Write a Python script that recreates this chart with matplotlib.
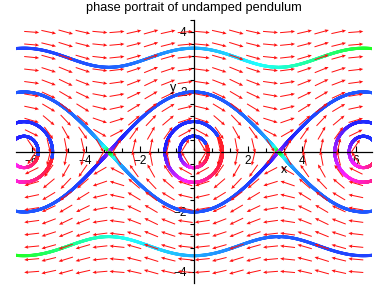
import numpy as np
import matplotlib.pyplot as plt
from matplotlib.collections import LineCollection
from matplotlib.colors import hsv_to_rgb
from matplotlib.ticker import MultipleLocator

plt.rcParams['font.family'] = ['Liberation Sans', 'DejaVu Sans']

# direction field grid (20 x 20)
grid_x = np.linspace(-6.0, 6.0, 20)
grid_y = np.linspace(-4.0, 4.0, 20)

# initial conditions
# separatrices through the saddles
sep_x0 = [-2 * np.pi, 0.0, 2 * np.pi, -2 * np.pi, 0.0, 2 * np.pi]
sep_y0 = [2.0, 2.0, 2.0, -2.0, -2.0, -2.0]
# rotating (outer) orbits
rot_x0 = [0.0, 0.0]
rot_y0 = [3.46, -3.46]
# closed loops around the centres
loop_cx = [0.0, 0.0, -2 * np.pi, -2 * np.pi, 2 * np.pi, 2 * np.pi]
loop_dx = [0.44, 0.88, 0.52, 1.04, 0.52, 1.04]
loop_y0 = [0.29, 0.55, -0.09, -0.18, -0.09, -0.18]
loop_side = [False, False, True, True, True, True]

xticks = [-6, -4, -2, 2, 4, 6]
yticks = [-4, -2, 2, 4]

# hue along one turn of a loop (red -> magenta -> blue)
centre_frac = [0.0, 0.2, 0.35, 0.5, 0.62, 1.0]
centre_hue = [1.0, 0.97, 0.87, 0.76, 0.67, 0.64]
side_frac = [0.0, 0.12, 0.25, 0.45, 0.7, 1.0]
side_hue = [1.0, 0.95, 0.87, 0.78, 0.66, 0.64]

SX, SY = 27.0, 30.0  # px per unit


def f(s):
    return np.array([s[1], -np.sin(s[0])])


def rk4(x0, y0, t_end, dt=0.005):
    n = int(abs(t_end) / dt)
    h = dt if t_end > 0 else -dt
    out = np.zeros((n + 1, 2))
    s = np.array([x0, y0], dtype=float)
    out[0] = s
    for i in range(n):
        k1 = f(s)
        k2 = f(s + h / 2 * k1)
        k3 = f(s + h / 2 * k2)
        k4 = f(s + h * k3)
        s = s + h / 6 * (k1 + 2 * k2 + 2 * k3 + k4)
        out[i + 1] = s
    return out


def draw(ax, pts, hues):
    seg = np.stack([pts[:-1], pts[1:]], axis=1)
    h = (hues[:-1] + hues[1:]) / 2
    hsv = np.stack([np.clip(h, 0, 1), np.full_like(h, 0.88), np.ones_like(h)], axis=1)
    lc = LineCollection(seg, colors=hsv_to_rgb(hsv), linewidths=2.2, capstyle='round', zorder=2)
    ax.add_collection(lc)


fig = plt.figure(figsize=(3.88, 2.88), dpi=100)
ax = fig.add_axes([16 / 388, 5 / 288, 356 / 388, 263 / 288])
ax.set_xlim(-6.58, 6.6)
ax.set_ylim(-4.37, 4.4)

# separatrices
T = 5.0
for x0, y0 in zip(sep_x0, sep_y0):
    back = rk4(x0, y0, -T)[::-1]
    fwd = rk4(x0, y0, T)
    tb = np.linspace(-T, 0, len(back))
    tf = np.linspace(0, T, len(fwd))
    pts = np.vstack([back, fwd[1:]])
    t = np.concatenate([tb, tf[1:]])
    hues = np.where(t < 0, 0.625 + 0.245 * (np.abs(t) / T) ** 2,
                    0.625 - 0.295 * (np.abs(t) / T) ** 2)
    draw(ax, pts, hues)

# rotating orbits
T1 = 2.15
for x0, y0 in zip(rot_x0, rot_y0):
    back = rk4(x0, y0, -T1)[::-1]
    fwd = rk4(x0, y0, T1)
    pts = np.vstack([back, fwd[1:]])
    s = np.linspace(0, 1, len(pts))
    draw(ax, pts, 0.64 - 0.31 * s ** 2)

# closed loops
for cx, dx, y0, side in zip(loop_cx, loop_dx, loop_y0, loop_side):
    pts = rk4(cx + dx, y0, 8.0)
    ang = np.unwrap(np.arctan2(pts[:, 1] * SY, (pts[:, 0] - cx) * SX))
    turn = ang[0] - ang
    k = np.argmax(turn >= 2 * np.pi)
    pts = pts[:k + 1]
    frac = turn[:k + 1] / (2 * np.pi)
    if side:
        hues = np.interp(frac, side_frac, side_hue)
    else:
        hues = np.interp(frac, centre_frac, centre_hue)
    draw(ax, pts, hues)

# direction field
X, Y = np.meshgrid(grid_x, grid_y)
U = Y * SX
V = -np.sin(X) * SY
n = np.hypot(U, V)
U = U / n * 15
V = V / n * 15
ax.quiver(X, Y, U, V, angles='uv', scale_units='dots', scale=1, pivot='mid',
          color='#ff1010', units='dots', width=1.0, headwidth=3.5, headlength=4,
          headaxislength=3.5, zorder=3)

# axes through the origin
for side in ['top', 'right']:
    ax.spines[side].set_visible(False)
ax.spines['left'].set_position(('data', 0))
ax.spines['bottom'].set_position(('data', 0))
ax.spines['left'].set_linewidth(0.9)
ax.spines['bottom'].set_linewidth(0.9)
ax.set_xticks(xticks)
ax.set_yticks(yticks)
ax.xaxis.set_minor_locator(MultipleLocator(2 / 3))
ax.yaxis.set_minor_locator(MultipleLocator(0.4))
ax.tick_params(axis='x', which='major', direction='in', length=4, width=0.8, labelsize=8.5, pad=2)
ax.tick_params(axis='x', which='minor', direction='in', length=3, width=0.8)
ax.tick_params(axis='y', which='major', direction='out', length=4, width=0.8, labelsize=8.5, pad=1)
ax.tick_params(axis='y', which='minor', direction='out', length=3, width=0.8)

ax.text(3.33, -0.6, 'x', fontsize=9, ha='center', va='center')
ax.text(-0.78, 2.13, 'y', fontsize=9, ha='center', va='center')

fig.text(0.5, 1 - 8 / 288, 'phase portrait of undamped pendulum', fontsize=9.2,
         ha='center', va='center')

fig.savefig('out.png', dpi=100)
